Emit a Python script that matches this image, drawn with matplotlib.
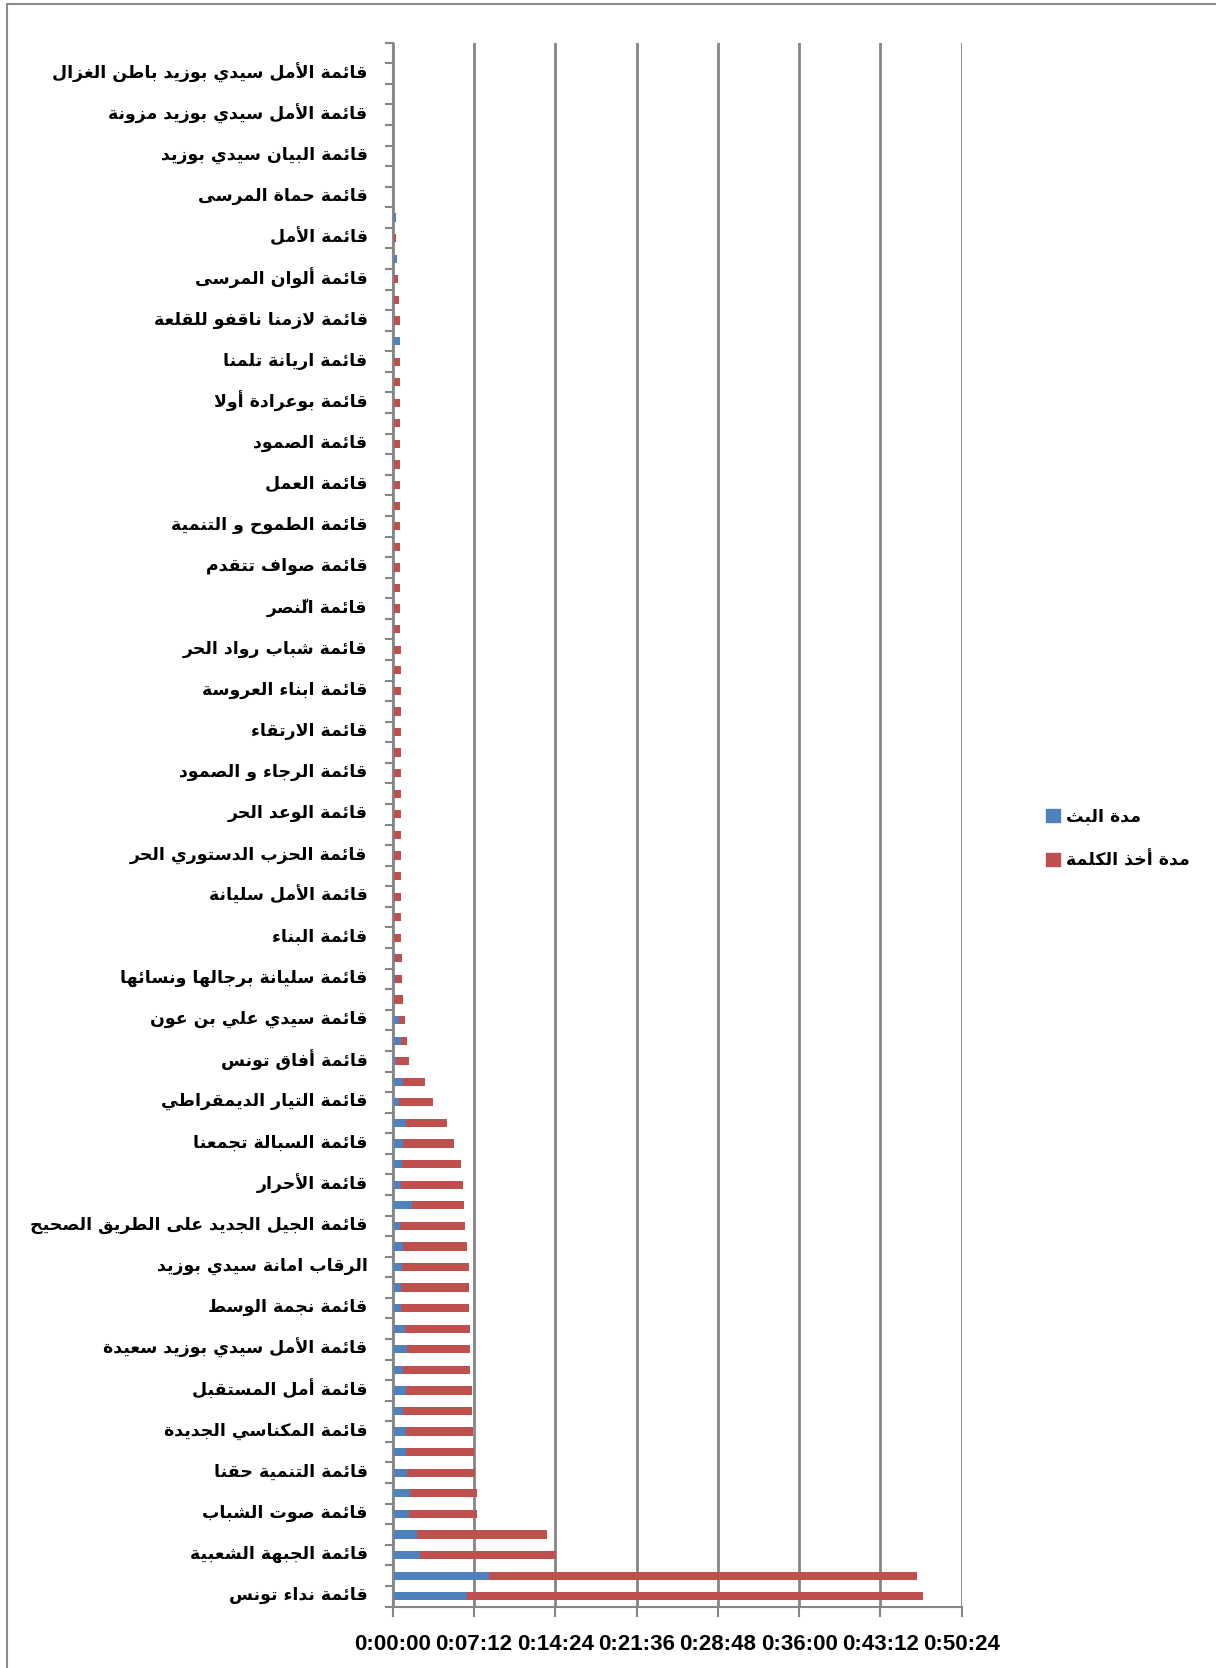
import matplotlib
matplotlib.use('Agg')
import matplotlib.pyplot as plt
from matplotlib.patches import Patch, Rectangle
from matplotlib.transforms import ScaledTranslation
import numpy as np

# every second category carries a label (bottom to top); 76 categories in total
shown_labels = [
    'قائمة نداء تونس', 'قائمة الجبهة الشعبية', 'قائمة صوت الشباب', 'قائمة التنمية حقنا',
    'قائمة المكناسي الجديدة', 'قائمة أمل المستقبل', 'قائمة الأمل سيدي بوزيد سعيدة',
    'قائمة نجمة الوسط', 'الرقاب امانة سيدي بوزيد', 'قائمة الجيل الجديد على الطريق الصحيح',
    'قائمة الأحرار', 'قائمة السبالة تجمعنا', 'قائمة التيار الديمقراطي', 'قائمة أفاق تونس',
    'قائمة سيدي علي بن عون', 'قائمة سليانة برجالها ونسائها', 'قائمة البناء',
    'قائمة الأمل سليانة', 'قائمة الحزب الدستوري الحر', 'قائمة الوعد الحر',
    'قائمة الرجاء و الصمود', 'قائمة الارتقاء', 'قائمة ابناء العروسة', 'قائمة شباب رواد الحر',
    'قائمة النّصر', 'قائمة صواف تتقدم', 'قائمة الطموح و التنمية', 'قائمة العمل',
    'قائمة الصمود', 'قائمة بوعرادة أولا', 'قائمة اريانة تلمنا', 'قائمة لازمنا ناقفو للقلعة',
    'قائمة ألوان المرسى', 'قائمة الأمل', 'قائمة حماة المرسى', 'قائمة البيان سيدي بوزيد',
    'قائمة الأمل سيدي بوزيد مزونة', 'قائمة الأمل سيدي بوزيد باطن الغزال',
]

# seconds, bottom to top
broadcast = [397, 510, 143, 129, 88, 92, 74, 70, 72, 57, 70, 55, 74, 68, 45, 45,
             52, 53, 39, 105, 46, 50, 55, 69, 34, 55, 16, 46, 34, 0, 11, 11,
             9, 9, 9, 9, 9, 0, 9, 2, 2, 9, 5, 4, 4, 4, 9, 0,
             3, 7, 7, 0, 0, 7, 0, 0, 0, 0, 0, 0, 0, 37, 0, 0,
             0, 21, 0, 18, 9, 2, 2, 2, 0, 0, 0, 0]
speaking = [2423, 2278, 725, 690, 362, 356, 362, 360, 356, 367, 354, 358, 337, 343, 362, 362,
            352, 343, 347, 274, 329, 313, 270, 221, 178, 119, 71, 30, 34, 57, 37, 37,
            37, 35, 35, 34, 35, 44, 35, 41, 41, 34, 38, 39, 39, 39, 33, 41,
            38, 34, 34, 39, 39, 32, 39, 39, 37, 37, 37, 37, 37, 0, 39, 34,
            30, 0, 20, 0, 0, 0, 0, 0, 0, 0, 0, 0]

series_names = ['مدة البث', 'مدة أخذ الكلمة']
x_ticks = ['0:00:00', '0:07:12', '0:14:24', '0:21:36', '0:28:48', '0:36:00', '0:43:12', '0:50:24']


# minimal arabic shaping, matplotlib draws glyphs left to right without joining
_F = {
    'ء': 'ﺀ', 'آ': 'ﺁﺂ', 'أ': 'ﺃﺄ', 'ؤ': 'ﺅﺆ', 'إ': 'ﺇﺈ', 'ئ': 'ﺉﺊﺋﺌ', 'ا': 'ﺍﺎ',
    'ب': 'ﺏﺐﺑﺒ', 'ة': 'ﺓﺔ', 'ت': 'ﺕﺖﺗﺘ', 'ث': 'ﺙﺚﺛﺜ', 'ج': 'ﺝﺞﺟﺠ', 'ح': 'ﺡﺢﺣﺤ',
    'خ': 'ﺥﺦﺧﺨ', 'د': 'ﺩﺪ', 'ذ': 'ﺫﺬ', 'ر': 'ﺭﺮ', 'ز': 'ﺯﺰ', 'س': 'ﺱﺲﺳﺴ',
    'ش': 'ﺵﺶﺷﺸ', 'ص': 'ﺹﺺﺻﺼ', 'ض': 'ﺽﺾﺿﻀ', 'ط': 'ﻁﻂﻃﻄ', 'ظ': 'ﻅﻆﻇﻈ',
    'ع': 'ﻉﻊﻋﻌ', 'غ': 'ﻍﻎﻏﻐ', 'ف': 'ﻑﻒﻓﻔ', 'ق': 'ﻕﻖﻗﻘ', 'ك': 'ﻙﻚﻛﻜ', 'ل': 'ﻝﻞﻟﻠ',
    'م': 'ﻡﻢﻣﻤ', 'ن': 'ﻥﻦﻧﻨ', 'ه': 'ﻩﻪﻫﻬ', 'و': 'ﻭﻮ', 'ى': 'ﻯﻰ', 'ي': 'ﻱﻲﻳﻴ',
}
_LAM_ALEF = {'آ': 'ﻵﻶ', 'أ': 'ﻷﻸ', 'إ': 'ﻹﻺ', 'ا': 'ﻻﻼ'}
_MARKS = set('\u064b\u064c\u064d\u064e\u064f\u0650\u0651\u0652')


def shape(text):
    letters = []  # [char, marks]
    for ch in text:
        if ch in _MARKS and letters:
            letters[-1][1] += ch
        else:
            letters.append([ch, ''])
    out = []
    i = 0
    while i < len(letters):
        ch, marks = letters[i]
        prev = letters[i - 1][0] if i > 0 else ' '
        joins_prev = len(_F.get(prev, '')) == 4 and len(_F.get(ch, '')) >= 2
        if ch == 'ل' and i + 1 < len(letters) and letters[i + 1][0] in _LAM_ALEF:
            lig = _LAM_ALEF[letters[i + 1][0]]
            out.append(lig[1 if joins_prev else 0] + marks + letters[i + 1][1])
            i += 2
            continue
        if ch not in _F:
            out.append(ch + marks)
            i += 1
            continue
        forms = _F[ch]
        nxt = letters[i + 1][0] if i + 1 < len(letters) else ' '
        joins_next = len(forms) == 4 and len(_F.get(nxt, '')) >= 2
        if joins_prev and joins_next:
            g = forms[3]
        elif joins_prev:
            g = forms[1]
        elif joins_next:
            g = forms[2]
        else:
            g = forms[0]
        out.append(g + marks)
        i += 1
    return ''.join(reversed(out))


grey = '#868686'
arabic_font = ['DejaVu Sans']
num_font = ['Liberation Sans']

fig = plt.figure(figsize=(12.16, 16.68), dpi=100)
W, H = 1216, 1668
ax = fig.add_axes([392.6 / W, 1 - 1606.5 / H, (961.8 - 392.6) / W, (1606.5 - 42.7) / H])

y = np.arange(len(broadcast))
ax.barh(y, broadcast, height=0.4, color='#4F81BD', label=shape(series_names[0]))
ax.barh(y, speaking, left=broadcast, height=0.4, color='#C0504D', label=shape(series_names[1]))

ax.set_xlim(0, 3024)
ax.set_ylim(-0.5, len(broadcast) - 0.5)
ax.set_xticks(np.arange(len(x_ticks)) * 432)
ax.set_xticklabels(x_ticks, fontsize=16, fontweight='bold', family=num_font)
ax.xaxis.grid(True, color=grey, lw=2)
ax.set_axisbelow(True)

ax.set_yticks(np.arange(-0.5, len(broadcast), 1))
ax.set_yticklabels([])
ax.set_yticks(np.arange(0, len(broadcast), 2), minor=True)
ax.set_yticklabels([shape(s) for s in shown_labels], minor=True,
                   fontsize=12.5, fontweight='bold', family=arabic_font)
ax.tick_params(axis='y', which='major', length=6, width=1.5, color=grey)
ax.tick_params(axis='y', which='minor', length=0, pad=18)
ax.tick_params(axis='x', length=7, width=1.5, color=grey, pad=13)

# nudge the arabic labels up a little
lift = ScaledTranslation(0, 0.03, fig.dpi_scale_trans)
for lbl in ax.get_yticklabels(minor=True):
    lbl.set_transform(lbl.get_transform() + lift)

for side in ['top', 'right']:
    ax.spines[side].set_visible(False)
for side in ['left', 'bottom']:
    ax.spines[side].set_color(grey)
    ax.spines[side].set_linewidth(1.5)

handles = [Patch(color='#4F81BD'), Patch(color='#C0504D')]
fig.legend(handles, [shape(s) for s in series_names], loc='upper left',
           bbox_to_anchor=(1030 / W, 1 - 792 / H), frameon=False,
           prop={'family': arabic_font, 'weight': 'bold', 'size': 12.5},
           handlelength=0.8, handleheight=0.8, handletextpad=0.4, labelspacing=1.5)

fig.patches.append(Rectangle((7 / W, -0.1), 2, 1.1 - 4 / H, transform=fig.transFigure,
                             fill=False, edgecolor='#8c8c8c', lw=1.5))

fig.savefig('out.png', dpi=100)
